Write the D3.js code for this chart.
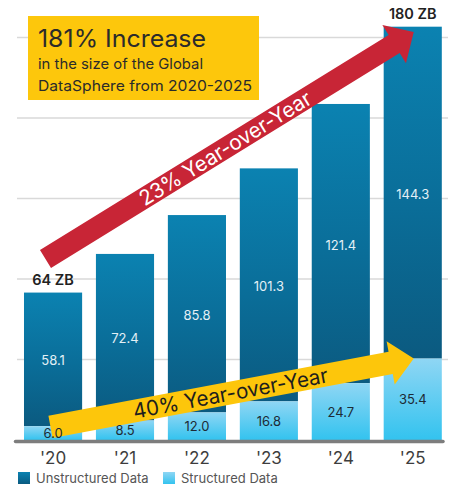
<!DOCTYPE html>
<html><head><meta charset="utf-8">
<script src="https://cdn.jsdelivr.net/npm/d3@7"></script>
<style>html,body{margin:0;padding:0;background:#fff;} svg{display:block;font-family:Inter, "Open Sans", sans-serif;}</style>
</head><body>
<svg id="c" width="453" height="489"></svg>
<script>
const years = ["'20","'21","'22","'23","'24","'25"];
const unstructured = [58.1, 72.4, 85.8, 101.3, 121.4, 144.3];
const structured = [6.0, 8.5, 12.0, 16.8, 24.7, 35.4];
const totalLabels = ["64 ZB", "", "", "", "", "180 ZB"];
const gridTicks = [35, 70, 105, 140, 175];
const seriesNames = ["Unstructured Data", "Structured Data"];
const headline = ["181% Increase", "in the size of the Global", "DataSphere from 2020-2025"];
const arrowTexts = ["23% Year-over-Year", "40% Year-over-Year"];

const svg = d3.select("#c");
const x = d3.scaleBand().domain(years).range([16.8, 449]).paddingInner(0.192).paddingOuter(0.1);
const y = d3.scaleLinear().domain([0, 175]).range([440, 37.5]);
const bw = x.bandwidth();

const defs = svg.append("defs");
const gU = defs.append("linearGradient").attr("id","gU").attr("x1",0).attr("y1",0).attr("x2",0).attr("y2",1);
gU.append("stop").attr("offset","0%").attr("stop-color","#0b82b1");
gU.append("stop").attr("offset","55%").attr("stop-color","#0a6d98");
gU.append("stop").attr("offset","100%").attr("stop-color","#0b5a80");
const gS = defs.append("linearGradient").attr("id","gS").attr("x1",0).attr("y1",0).attr("x2",0).attr("y2",1);
gS.append("stop").attr("offset","0%").attr("stop-color","#8fd6f4");
gS.append("stop").attr("offset","100%").attr("stop-color","#33c3ef");

// gridlines
svg.append("g").selectAll("line").data(gridTicks).join("line")
  .attr("x1", 17).attr("x2", 448).attr("y1", d => y(d)).attr("y2", d => y(d))
  .attr("stroke", "#d9d9d9").attr("stroke-width", 1.5);

const data = years.map((yr, i) => ({yr, u: unstructured[i], s: structured[i], t: totalLabels[i]}));

// unstructured bars
svg.append("g").selectAll("rect").data(data).join("rect")
  .attr("x", d => x(d.yr)).attr("width", bw)
  .attr("y", d => y(d.u + d.s)).attr("height", d => y(d.s) - y(d.u + d.s))
  .attr("fill", "url(#gU)");
// structured bars
svg.append("g").selectAll("rect").data(data).join("rect")
  .attr("x", d => x(d.yr)).attr("width", bw)
  .attr("y", d => y(d.s)).attr("height", d => y(0) - y(d.s))
  .attr("fill", "url(#gS)");

// axis line
svg.append("line").attr("x1", 15.5).attr("x2", 443).attr("y1", y(0) + 1.5).attr("y2", y(0) + 1.5)
  .attr("stroke", "#7d7d7d").attr("stroke-width", 3.5).attr("stroke-linecap","round");

// x labels
svg.append("g").selectAll("text").data(years).join("text")
  .attr("x", d => x(d) + bw/2).attr("y", 464).attr("text-anchor","middle")
  .attr("font-size", 17).attr("fill", "#3d3d3d").text(d => d);

// arrows
function arrow(x0, y0, x1, y1, shaftW, headL, headW, color, label, textColor, textT, textLen) {
  const dx = x1 - x0, dy = y1 - y0, L = Math.hypot(dx, dy), ang = Math.atan2(dy, dx) * 180 / Math.PI;
  const g = svg.append("g").attr("transform", `translate(${x0},${y0}) rotate(${ang})`);
  const pts = [[0,-shaftW/2],[L-headL,-shaftW/2],[L-headL,-headW/2],[L,0],[L-headL,headW/2],[L-headL,shaftW/2],[0,shaftW/2]];
  g.append("polygon").attr("points", pts.map(p => p.join(",")).join(" ")).attr("fill", color);
  g.append("text").attr("x", textT).attr("y", 7.5).attr("text-anchor","middle")
    .attr("font-size", 21).attr("fill", textColor)
    .attr("textLength", textLen).attr("lengthAdjust", "spacingAndGlyphs").text(label);
}
const last = data[data.length - 1], first = data[0];
arrow(x(first.yr) + 21.5, y(78.7), x(last.yr) + bw/2 + 1, y(177.4), 21, 23, 45, "#c82536", arrowTexts[0], "#ffffff", 211, 198);
arrow(x(first.yr) + 26.5, y(5.7), x(last.yr) + bw/2 + 1, y(last.s), 22.5, 23.5, 44, "#fdc60b", arrowTexts[1], "#1e1e1e", 183, 198);

// value labels unstructured
svg.append("g").selectAll("text").data(data).join("text")
  .attr("x", d => x(d.yr) + bw/2).attr("y", d => (y(d.s) + y(d.u + d.s)) / 2 + 6)
  .attr("text-anchor","middle").attr("font-size", 13).attr("fill", "#e3f0f6")
  .text(d => d.u.toFixed(1));
// value labels structured
svg.append("g").selectAll("text").data(data).join("text")
  .attr("x", d => x(d.yr) + bw/2).attr("y", d => (y(0) + y(d.s)) / 2 + 5)
  .attr("text-anchor","middle").attr("font-size", 13).attr("fill", "#1d2b36")
  .text(d => d.s.toFixed(1));
// totals
svg.append("g").selectAll("text").data(data.filter(d => d.t)).join("text")
  .attr("x", d => x(d.yr) + bw/2).attr("y", d => y(d.u + d.s) - 8)
  .attr("text-anchor","middle").attr("font-size", 14.5).attr("font-weight", 600).attr("fill", "#222")
  .text(d => d.t);

// headline box
const hb = svg.append("g");
const hlSize = [24, 14.5, 14.5], hlY = [47, 69, 91], hlLen = [168, 165, 214];
hb.append("rect").attr("x", 28).attr("y", 16).attr("width", 231).attr("height", 84).attr("fill", "#fdc70c");
headline.forEach((t, i) => {
  hb.append("text").attr("x", 38).attr("y", hlY[i]).attr("font-size", hlSize[i]).attr("fill", "#2b2b2b")
    .attr("textLength", hlLen[i]).attr("lengthAdjust", "spacingAndGlyphs").text(t);
});

// legend
const lg = svg.append("g");
const lx = [18, 163];
const lc = ["url(#gU)", "url(#gS)"];
seriesNames.forEach((n, i) => {
  lg.append("rect").attr("x", lx[i]).attr("y", 472).attr("width", 12).attr("height", 12).attr("fill", lc[i]);
  lg.append("text").attr("x", lx[i] + 18).attr("y", 483).attr("font-size", 13).attr("fill", "#555").text(n);
});
</script>
</body></html>
